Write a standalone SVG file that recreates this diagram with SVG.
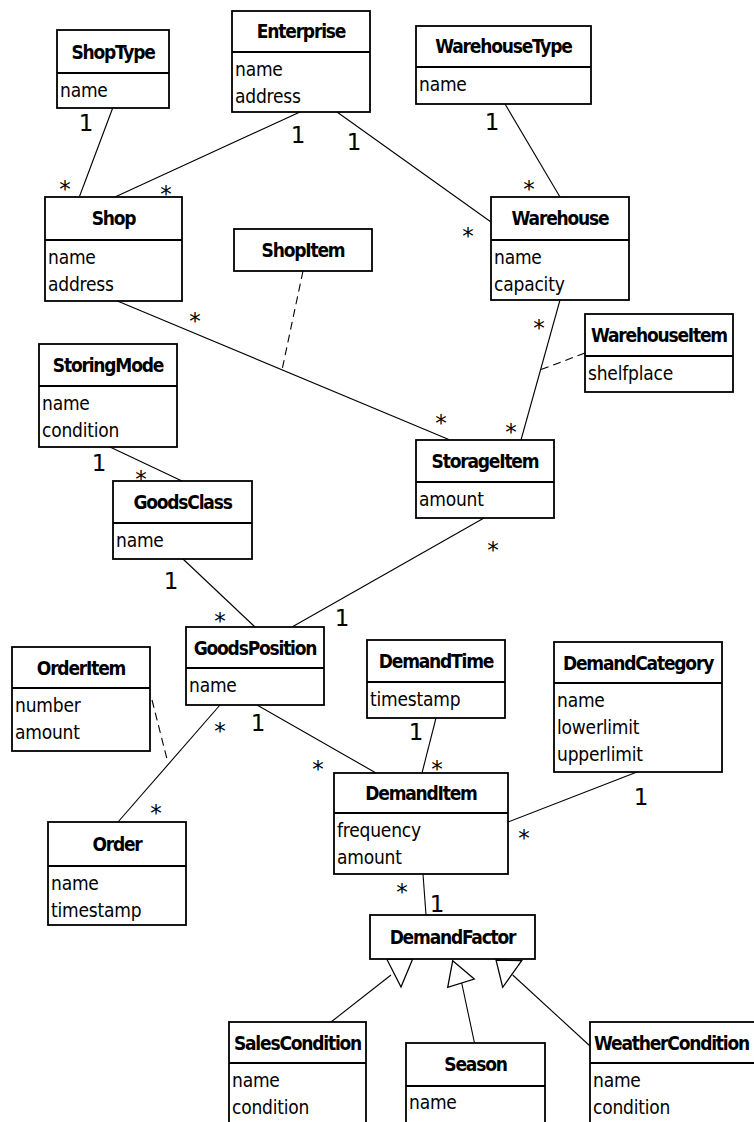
<svg xmlns="http://www.w3.org/2000/svg" width="754" height="1122" viewBox="0 0 754 1122">
<style>
.box{fill:#fff;stroke:#000;stroke-width:1.8}
.div{stroke:#000;stroke-width:1.8}
.hd{font-family:"DejaVu Sans Condensed","DejaVu Sans",sans-serif;font-stretch:condensed;font-weight:bold;font-size:19px;letter-spacing:-1.2px;text-anchor:middle;fill:#000}
.at{font-family:"DejaVu Sans Condensed","DejaVu Sans",sans-serif;font-stretch:condensed;font-size:19px;letter-spacing:-0.2px;fill:#000}
.ln{stroke:#000;stroke-width:1.1;fill:none}
.dash{stroke:#000;stroke-width:1.1;fill:none;stroke-dasharray:8 5}
.tri{stroke:#000;stroke-width:1.3;fill:#fff}
.m{font-family:"DejaVu Sans",sans-serif;font-size:23px;text-anchor:middle;fill:#000}
</style>
<rect width="754" height="1122" fill="#fff"/>
<g id="connectors">
<line class="ln" x1="112.7" y1="108" x2="79.3" y2="197"/>
<line class="ln" x1="300" y1="112" x2="115" y2="197"/>
<line class="ln" x1="337" y1="112" x2="491" y2="222"/>
<line class="ln" x1="505" y1="104" x2="560" y2="197"/>
<line class="ln" x1="115" y1="300" x2="450" y2="440"/>
<line class="dash" x1="303" y1="271" x2="282" y2="370"/>
<line class="ln" x1="560" y1="300" x2="521" y2="440"/>
<line class="dash" x1="585" y1="353" x2="540" y2="370"/>
<line class="ln" x1="110" y1="447" x2="182" y2="481"/>
<line class="ln" x1="183" y1="559" x2="255" y2="627"/>
<line class="ln" x1="484" y1="518" x2="292" y2="627"/>
<line class="ln" x1="220" y1="705" x2="118" y2="822"/>
<line class="dash" x1="152" y1="700" x2="168" y2="763"/>
<line class="ln" x1="257" y1="705" x2="376" y2="773"/>
<line class="ln" x1="436" y1="718" x2="422" y2="773"/>
<line class="ln" x1="637" y1="772" x2="508" y2="822"/>
<line class="ln" x1="423" y1="874" x2="426" y2="915"/>
<line class="ln" x1="331" y1="1022" x2="391" y2="975"/>
<polygon class="tri" points="386.7,959 412.7,959 401,987"/>
<line class="ln" x1="474.5" y1="1043" x2="461.7" y2="983"/>
<polygon class="tri" points="452.7,960.7 474.3,979 447.7,987.3"/>
<line class="ln" x1="590" y1="1046" x2="512.7" y2="975"/>
<polygon class="tri" points="496,960 521.7,960.7 502.7,987.3"/>
<text class="m" x="86" y="131">1</text><text class="m" x="65" y="197">*</text>
<text class="m" x="298" y="143">1</text><text class="m" x="166" y="202">*</text>
<text class="m" x="354" y="150">1</text><text class="m" x="468" y="244">*</text>
<text class="m" x="492" y="130">1</text><text class="m" x="529" y="197">*</text>
<text class="m" x="195" y="329">*</text><text class="m" x="441" y="431">*</text>
<text class="m" x="539" y="336">*</text><text class="m" x="511" y="440">*</text>
<text class="m" x="99" y="471">1</text><text class="m" x="141" y="487">*</text>
<text class="m" x="171" y="589">1</text><text class="m" x="220" y="629">*</text>
<text class="m" x="493" y="558">*</text><text class="m" x="342" y="626">1</text>
<text class="m" x="220" y="739">*</text><text class="m" x="156" y="821">*</text>
<text class="m" x="258" y="731">1</text><text class="m" x="318" y="777">*</text>
<text class="m" x="416" y="740">1</text><text class="m" x="437" y="777">*</text>
<text class="m" x="641" y="805">1</text><text class="m" x="524" y="846">*</text>
<text class="m" x="402" y="900">*</text><text class="m" x="437" y="912">1</text>
</g>
<g id="ShopType"><rect class="box" x="57" y="30" width="112" height="78"/><line class="div" x1="57" y1="73" x2="169" y2="73"/><text class="hd" x="113" y="59">ShopType</text><text class="at" x="60" y="97">name</text></g>
<g id="Enterprise"><rect class="box" x="232" y="11" width="138" height="101"/><line class="div" x1="232" y1="52" x2="370" y2="52"/><text class="hd" x="301" y="38">Enterprise</text><text class="at" x="235" y="76">name</text><text class="at" x="235" y="103">address</text></g>
<g id="WarehouseType"><rect class="box" x="416" y="26" width="175" height="78"/><line class="div" x1="416" y1="67" x2="591" y2="67"/><text class="hd" x="503.5" y="53">WarehouseType</text><text class="at" x="419" y="91">name</text></g>
<g id="Shop"><rect class="box" x="45" y="197" width="137" height="104"/><line class="div" x1="45" y1="240" x2="182" y2="240"/><text class="hd" x="113.5" y="225">Shop</text><text class="at" x="48" y="264">name</text><text class="at" x="48" y="291">address</text></g>
<g id="ShopItem"><rect class="box" x="234" y="229" width="138" height="42"/><text class="hd" x="303" y="257">ShopItem</text></g>
<g id="Warehouse"><rect class="box" x="491" y="197" width="138" height="103"/><line class="div" x1="491" y1="240" x2="629" y2="240"/><text class="hd" x="560" y="225">Warehouse</text><text class="at" x="494" y="264">name</text><text class="at" x="494" y="291">capacity</text></g>
<g id="WarehouseItem"><rect class="box" x="585" y="314" width="148" height="78"/><line class="div" x1="585" y1="356" x2="733" y2="356"/><text class="hd" x="659" y="342">WarehouseItem</text><text class="at" x="588" y="380">shelfplace</text></g>
<g id="StoringMode"><rect class="box" x="39" y="344" width="138" height="103"/><line class="div" x1="39" y1="386" x2="177" y2="386"/><text class="hd" x="108" y="372">StoringMode</text><text class="at" x="42" y="410">name</text><text class="at" x="42" y="437">condition</text></g>
<g id="StorageItem"><rect class="box" x="416" y="440" width="138" height="78"/><line class="div" x1="416" y1="482" x2="554" y2="482"/><text class="hd" x="485" y="468">StorageItem</text><text class="at" x="419" y="506">amount</text></g>
<g id="GoodsClass"><rect class="box" x="113" y="481" width="139" height="78"/><line class="div" x1="113" y1="523" x2="252" y2="523"/><text class="hd" x="182.5" y="509">GoodsClass</text><text class="at" x="116" y="547">name</text></g>
<g id="GoodsPosition"><rect class="box" x="186" y="627" width="138" height="78"/><line class="div" x1="186" y1="668" x2="324" y2="668"/><text class="hd" x="255" y="655">GoodsPosition</text><text class="at" x="189" y="692">name</text></g>
<g id="OrderItem"><rect class="box" x="12" y="647" width="138" height="104"/><line class="div" x1="12" y1="688" x2="150" y2="688"/><text class="hd" x="81" y="675">OrderItem</text><text class="at" x="15" y="712">number</text><text class="at" x="15" y="739">amount</text></g>
<g id="DemandTime"><rect class="box" x="367" y="640" width="138" height="78"/><line class="div" x1="367" y1="682" x2="505" y2="682"/><text class="hd" x="436" y="668">DemandTime</text><text class="at" x="370" y="706">timestamp</text></g>
<g id="DemandCategory"><rect class="box" x="554" y="642" width="168" height="130"/><line class="div" x1="554" y1="683" x2="722" y2="683"/><text class="hd" x="638" y="670">DemandCategory</text><text class="at" x="557" y="707">name</text><text class="at" x="557" y="734">lowerlimit</text><text class="at" x="557" y="761">upperlimit</text></g>
<g id="DemandItem"><rect class="box" x="334" y="773" width="174" height="101"/><line class="div" x1="334" y1="813" x2="508" y2="813"/><text class="hd" x="421" y="800">DemandItem</text><text class="at" x="337" y="837">frequency</text><text class="at" x="337" y="864">amount</text></g>
<g id="Order"><rect class="box" x="48" y="822" width="138" height="103"/><line class="div" x1="48" y1="866" x2="186" y2="866"/><text class="hd" x="117" y="851">Order</text><text class="at" x="51" y="890">name</text><text class="at" x="51" y="917">timestamp</text></g>
<g id="DemandFactor"><rect class="box" x="370" y="915" width="165" height="44"/><text class="hd" x="452.5" y="944">DemandFactor</text></g>
<g id="SalesCondition"><rect class="box" x="229" y="1022" width="137" height="120"/><line class="div" x1="229" y1="1063" x2="366" y2="1063"/><text class="hd" x="297.5" y="1050">SalesCondition</text><text class="at" x="232" y="1087">name</text><text class="at" x="232" y="1114">condition</text></g>
<g id="Season"><rect class="box" x="406" y="1043" width="139" height="100"/><line class="div" x1="406" y1="1086" x2="545" y2="1086"/><text class="hd" x="475.5" y="1071">Season</text><text class="at" x="409" y="1109">name</text></g>
<g id="WeatherCondition"><rect class="box" x="590" y="1022" width="180" height="120"/><line class="div" x1="590" y1="1063" x2="770" y2="1063"/><text class="hd" x="594" y="1050" style="text-anchor:start">WeatherCondition</text><text class="at" x="593" y="1087">name</text><text class="at" x="593" y="1114">condition</text></g>
</svg>
